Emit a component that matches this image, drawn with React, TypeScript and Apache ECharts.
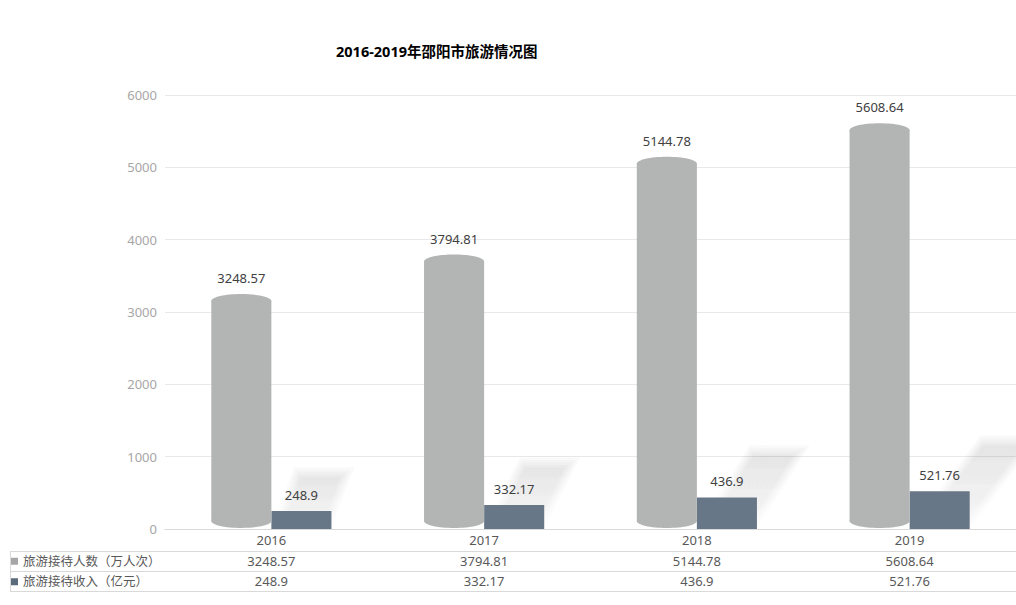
import React, { useEffect, useRef } from 'react';
import * as echarts from 'echarts';

const titleText = '2016-2019年邵阳市旅游情况图';
const categories = ['2016', '2017', '2018', '2019'];
const visitors = [3248.57, 3794.81, 5144.78, 5608.64];
const income = [248.9, 332.17, 436.9, 521.76];
const seriesNames = ['旅游接待人数（万人次）', '旅游接待收入（亿元）'];
const yMin = 0;
const yMax = 6000;
const yInterval = 1000;

const GRAY = '#b3b5b4';
const DARK = '#687787';
const LINE = '#d9d9d9';
const TXT = '#595959';
const FONT = "'Noto Sans', 'Noto Sans CJK SC', sans-serif";
const BAR_FRAC = 0.2824;

export default function App() {
  const ref = useRef<HTMLDivElement>(null);
  useEffect(() => {
    if (!ref.current) return;
    const chart = echarts.init(ref.current, null, { renderer: 'svg' });

    const grayItem = (params: any, api: any) => {
      const idx = api.value(0);
      const val = api.value(1);
      const top = api.coord([idx, val]);
      const base = api.coord([idx, 0]);
      const band = api.size([1, 0])[0];
      const w = band * BAR_FRAC;
      const x0 = top[0] - w;
      const cx = x0 + w / 2;
      const ry = 7;
      const yTop = top[1];
      const yBot = base[1] - 1;
      return {
        type: 'group',
        children: [
          { type: 'rect', shape: { x: x0, y: yTop + ry, width: w, height: yBot - yTop - 2 * ry }, style: { fill: GRAY } },
          { type: 'ellipse', shape: { cx, cy: yTop + ry, rx: w / 2, ry }, style: { fill: GRAY } },
          { type: 'ellipse', shape: { cx, cy: yBot - ry, rx: w / 2, ry }, style: { fill: GRAY } },
          {
            type: 'text',
            style: { text: String(val), x: cx, y: yTop - 16, align: 'center', verticalAlign: 'middle', fill: '#404040', fontSize: 13, fontFamily: FONT },
          },
        ],
      };
    };

    const darkItem = (params: any, api: any) => {
      const idx = api.value(0);
      const val = api.value(1);
      const top = api.coord([idx, val]);
      const base = api.coord([idx, 0]);
      const band = api.size([1, 0])[0];
      const w = band * BAR_FRAC;
      const x0 = top[0];
      const cx = x0 + w / 2;
      const barH = base[1] - top[1];
      const h = 33 + 1.6 * barH;
      const dx = h * (0.37 + 0.13 * idx);
      const yb = base[1];
      const layers: any[] = [];
      for (let k = 0; k < 5; k++) {
        const s = k * 2.5;
        const hh = h - s;
        const ddx = dx * (hh / h);
        layers.push({
          type: 'polygon',
          shape: {
            points: [
              [x0 + s, yb],
              [x0 + w - s, yb],
              [x0 + w - s + ddx, yb - hh],
              [x0 + s + ddx, yb - hh],
            ],
          },
          style: {
            fill: {
              type: 'linear', x: 0, y: 0, x2: 0, y2: 1,
              colorStops: [
                { offset: 0, color: 'rgba(0,0,0,0.022)' },
                { offset: 1, color: 'rgba(0,0,0,0.006)' },
              ],
            },
          },
        });
      }
      return {
        type: 'group',
        children: [
          ...layers,
          { type: 'rect', shape: { x: x0, y: top[1], width: w, height: barH }, style: { fill: DARK } },
          {
            type: 'text',
            style: { text: String(val), x: cx, y: top[1] - 16, align: 'center', verticalAlign: 'middle', fill: '#404040', fontSize: 13, fontFamily: FONT },
          },
        ],
      };
    };

    const lineStyle = { color: LINE, width: 1 };
    const tableLabel = { color: TXT, fontSize: 13, fontFamily: FONT, interval: 0 };

    chart.setOption({
      animation: false,
      backgroundColor: '#ffffff',
      title: {
        text: titleText,
        left: 336,
        top: 44,
        padding: 0,
        textStyle: { fontSize: 14.5, fontWeight: 'bold', color: '#000000', fontFamily: FONT },
      },
      legend: {
        orient: 'vertical',
        left: 11,
        top: 555,
        padding: 0,
        itemWidth: 7,
        itemHeight: 7,
        itemGap: 8,
        selectedMode: false,
        textStyle: { color: TXT, fontSize: 12.5, lineHeight: 12, fontFamily: FONT },
        data: [
          { name: seriesNames[0], icon: 'rect', itemStyle: { color: '#a6a6a6' } },
          { name: seriesNames[1], icon: 'rect', itemStyle: { color: '#5b6b7c' } },
        ],
      },
      grid: { left: 165, top: 95, width: 864, height: 434 },
      xAxis: [
        {
          type: 'category',
          data: categories,
          position: 'bottom',
          axisLine: { lineStyle },
          axisTick: { length: 22, lineStyle },
          axisLabel: { ...tableLabel, margin: 4 },
        },
        {
          type: 'category',
          data: categories,
          position: 'bottom',
          offset: 22,
          axisLine: { lineStyle },
          axisTick: { length: 20, lineStyle },
          axisLabel: { ...tableLabel, margin: 3, formatter: (v: string, i: number) => String(visitors[i]) },
        },
        {
          type: 'category',
          data: categories,
          position: 'bottom',
          offset: 42,
          axisLine: { lineStyle },
          axisTick: { length: 20, lineStyle },
          axisLabel: { ...tableLabel, margin: 3, formatter: (v: string, i: number) => String(income[i]) },
        },
        {
          type: 'category',
          data: categories,
          position: 'bottom',
          offset: 62,
          axisLine: { lineStyle },
          axisTick: { show: false },
          axisLabel: { show: false },
        },
      ],
      yAxis: {
        type: 'value',
        min: yMin,
        max: yMax,
        interval: yInterval,
        axisLine: { show: false },
        axisTick: { show: false },
        axisLabel: { color: '#a6a6a6', fontSize: 13, margin: 8, fontFamily: FONT, formatter: (v: number) => String(v) },
        splitLine: { lineStyle: { color: '#e8e8e8' } },
      },
      graphic: [
        { type: 'line', shape: { x1: 10, y1: 551.5, x2: 165, y2: 551.5 }, style: { stroke: LINE, lineWidth: 1 } },
        { type: 'line', shape: { x1: 10, y1: 571.5, x2: 165, y2: 571.5 }, style: { stroke: LINE, lineWidth: 1 } },
        { type: 'line', shape: { x1: 10, y1: 591.5, x2: 165, y2: 591.5 }, style: { stroke: LINE, lineWidth: 1 } },
        { type: 'line', shape: { x1: 10.5, y1: 551.5, x2: 10.5, y2: 591.5 }, style: { stroke: LINE, lineWidth: 1 } },
      ],
      series: [
        {
          name: seriesNames[0],
          type: 'custom',
          color: GRAY,
          xAxisIndex: 0,
          renderItem: grayItem,
          data: categories.map((c, i) => [i, visitors[i]]),
          z: 3,
        },
        {
          name: seriesNames[1],
          type: 'custom',
          color: DARK,
          xAxisIndex: 0,
          renderItem: darkItem,
          data: categories.map((c, i) => [i, income[i]]),
          z: 2,
        },
      ],
    });
    return () => chart.dispose();
  }, []);
  return <div ref={ref} style={{ position: 'fixed', left: 0, top: 0, width: 1016, height: 605 }} />;
}
